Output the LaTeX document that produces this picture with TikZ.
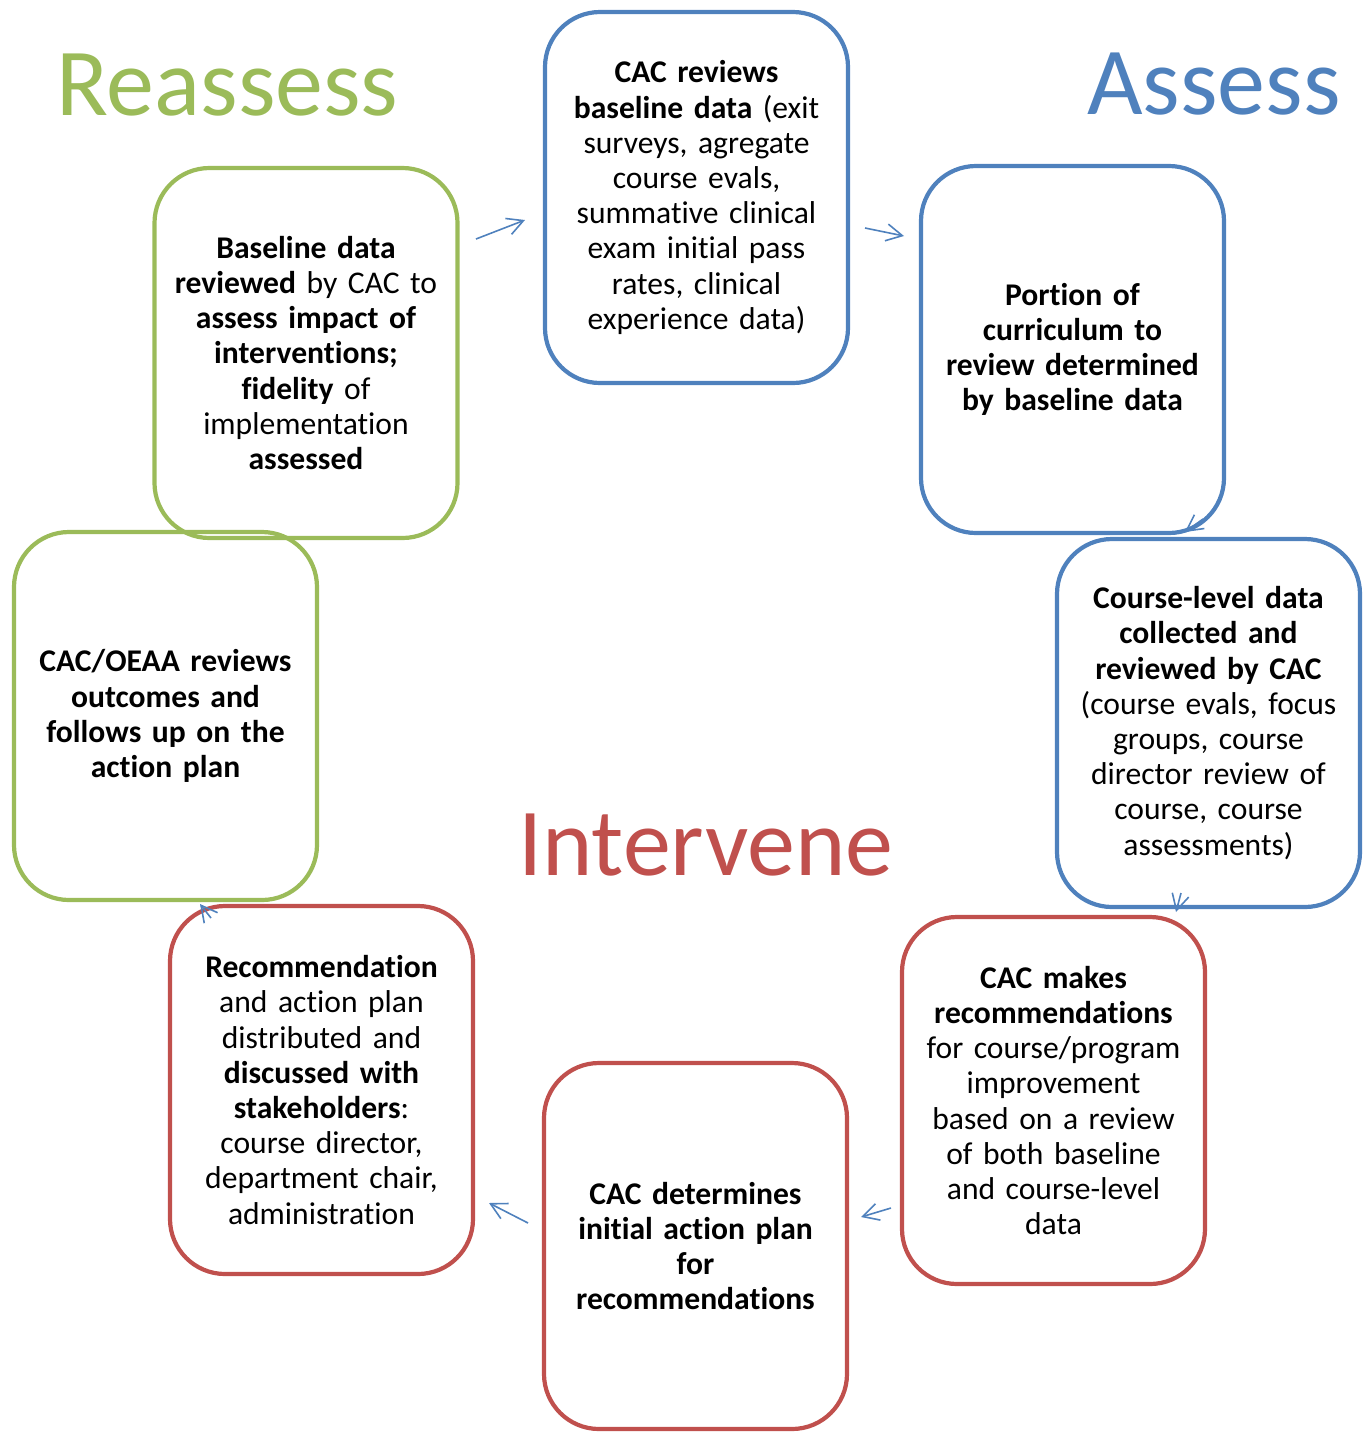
\documentclass[tikz,border=0pt]{standalone}
\usepackage{fontspec}
\setmainfont{Carlito}[RawFeature={-liga;-clig;-dlig}]
\usetikzlibrary{arrows.meta}
\definecolor{cblue}{HTML}{4F81BD}
\definecolor{cred}{HTML}{C0504D}
\definecolor{cgreen}{HTML}{9BBB59}
\tikzset{
  box/.style={draw=#1, line width=4.2pt, rounded corners=55pt, minimum width=303pt,
    minimum height=368pt, inner sep=0pt, text width=298pt, align=center,
    font=\fontsize{31.6}{35.2}\selectfont, text=black},
  heading/.style={font=\fontsize{96}{100}\selectfont, text=#1, anchor=base west, inner sep=0pt},
  flow/.style={draw=cblue, line width=1.6pt, -{Straight Barb[length=16pt,width=17pt,line width=1.6pt]}}
}
\begin{document}
\begin{tikzpicture}[x=1pt,y=-1pt]
\useasboundingbox (0,0) rectangle (1366,1433);

% headings
\node[heading=cgreen] (reassess) at (56,115) {Reassess};
\node[heading=cblue] (assess) at (1087,114) {Assess};
\node[heading=cred] (intervene) at (518,875) {Intervene};

% boxes
\node[box=cblue, minimum height=371pt] (A) at (696.5,197.5)
 {\textbf{CAC reviews}\\ \textbf{baseline data} (exit\\ surveys, agregate\\ course evals,\\ summative clinical\\ exam initial pass\\ rates, clinical\\ experience data)};
\node[box=cblue, minimum height=367pt] (B) at (1072.5,349.5)
 {\textbf{Portion of}\\ \textbf{curriculum to}\\ \textbf{review determined}\\ \textbf{by baseline data}};
\node[box=cblue] (C) at (1208.5,723)
 {\textbf{Course-level data}\\ \textbf{collected and}\\ \textbf{reviewed by CAC}\\ (course evals, focus\\ groups, course\\ director review of\\ course, course\\ assessments)};
\node[box=cred, minimum height=367pt] (D) at (1053.5,1100.5)
 {\textbf{CAC makes}\\ \textbf{recommendations}\\ for course/program\\ improvement\\ based on a review\\ of both baseline\\ and course-level\\ data};
\node[box=cred, minimum height=366pt] (E) at (695.5,1246)
 {\textbf{CAC determines}\\ \textbf{initial action plan}\\ \textbf{for}\\ \textbf{recommendations}};
\node[box=cred] (F) at (321.5,1090)
 {\textbf{Recommendation}\\ and action plan\\ distributed and\\ \textbf{discussed with}\\ \textbf{stakeholders}:\\ course director,\\ department chair,\\ administration};
\node[box=cgreen] (G) at (165.5,716)
 {\textbf{CAC/OEAA reviews}\\ \textbf{outcomes and}\\ \textbf{follows up on the}\\ \textbf{action plan}};
\node[box=cgreen, minimum height=370pt] (H) at (306,353)
 {\textbf{Baseline data}\\ \textbf{reviewed} by CAC to\\ \textbf{assess impact of}\\ \textbf{interventions;}\\ \textbf{fidelity} of\\ implementation\\ \textbf{assessed}};

% connector end points
\coordinate (hA1) at (476,239); \coordinate (hA2) at (525,220);
\coordinate (aB1) at (865,228); \coordinate (aB2) at (904,236);
\coordinate (bC1) at (1203,519); \coordinate (bC2) at (1185,532);
\coordinate (cD1) at (1181,893); \coordinate (cD2) at (1176,912);
\coordinate (dE1) at (891,1208); \coordinate (dE2) at (861,1217);
\coordinate (eF1) at (528,1223); \coordinate (eF2) at (489,1203);
\coordinate (fG1) at (211,918); \coordinate (fG2) at (200,904);

% connectors
\draw[flow] (hA1) -- (hA2);
\draw[flow] (aB1) -- (aB2);
\draw[flow] (bC1) -- (bC2);
\draw[flow] (cD1) -- (cD2);
\draw[flow] (dE1) -- (dE2);
\draw[flow] (eF1) -- (eF2);
\draw[flow] (fG1) -- (fG2);
\end{tikzpicture}
\end{document}
